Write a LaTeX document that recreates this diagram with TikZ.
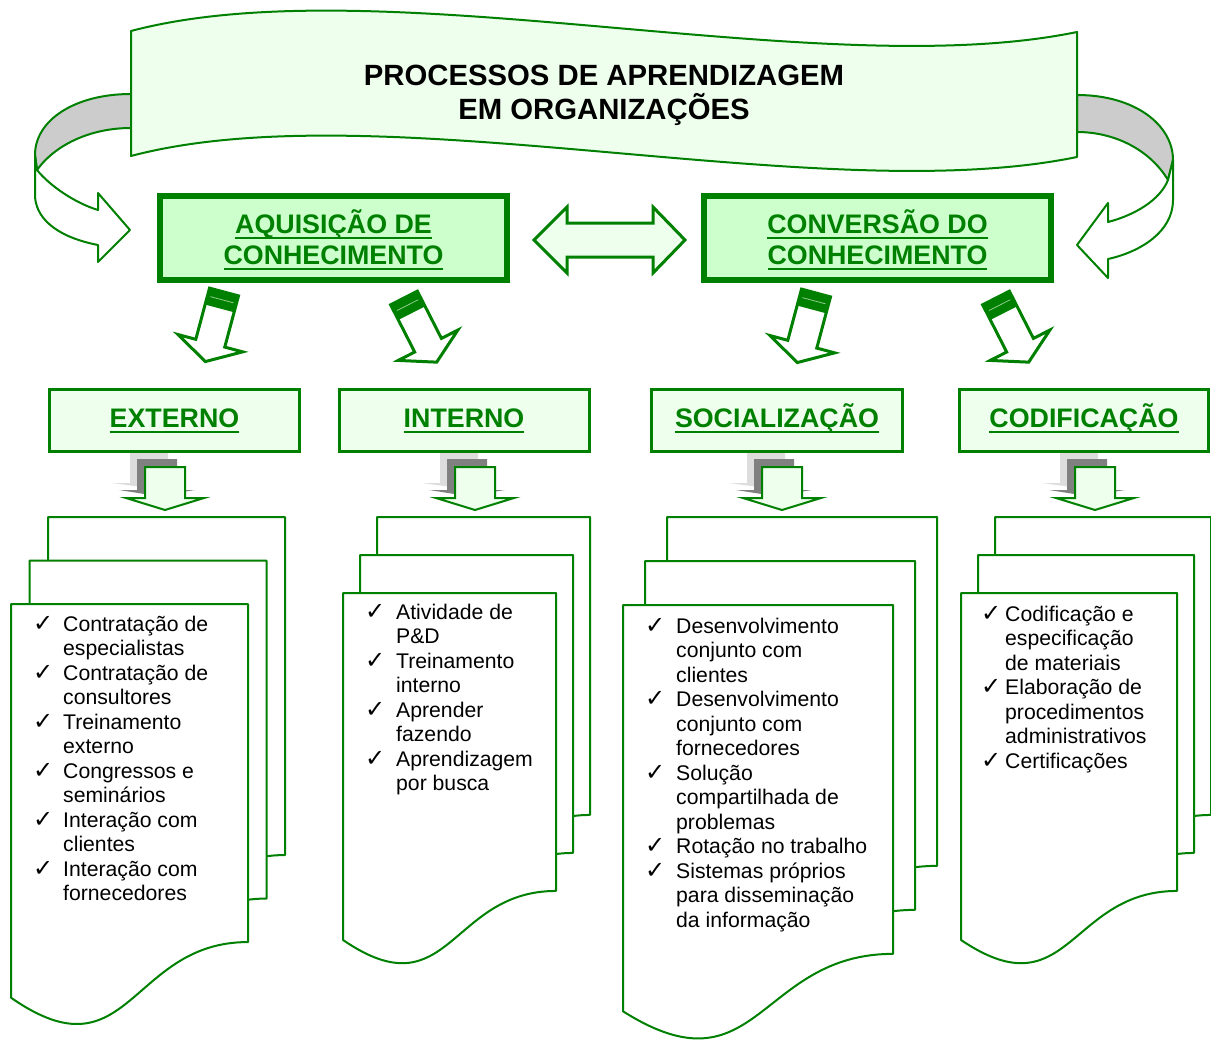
\documentclass[tikz,border=0pt]{standalone}
\usepackage{fontspec}
\setmainfont{Liberation Sans}
\newfontfamily\checkfont{DejaVu Sans}
\usetikzlibrary{calc}

\definecolor{dkgreen}{HTML}{008000}
\definecolor{mint}{HTML}{CCFFCC}
\definecolor{palemint}{HTML}{EEFFEE}
\definecolor{bandgray}{HTML}{CCCCCC}
\definecolor{shadowdark}{HTML}{808080}
\definecolor{shadowlight}{HTML}{DDDDDD}

% underline drawn as a thick rule under the whole word group
\newcommand\greenul[1]{\setbox0=\hbox{#1}\rlap{\rule[-5.5pt]{\wd0}{2pt}}\box0}
\newcommand\ck{{\checkfont\fontsize{24}{24.5}\selectfont ✓}}

\tikzset{
  ribbon/.style={draw=dkgreen, line width=2pt, line join=round},
  mainbox/.style={draw=dkgreen, line width=6pt, fill=mint, minimum width=347pt, minimum height=84pt},
  subbox/.style={draw=dkgreen, line width=3pt, fill=palemint, minimum height=62pt},
  headtext/.style={text=dkgreen, font=\bfseries\fontsize{26.8}{31}\selectfont, anchor=base, inner sep=0pt},
  titletext/.style={font=\bfseries\fontsize{29.3}{33}\selectfont, anchor=base, inner sep=0pt},
  listtext/.style={font=\fontsize{21.2}{24.5}\selectfont, anchor=base west, inner sep=0pt},
  docpg/.style={draw=dkgreen, line width=2pt, fill=white, line join=round},
  tiltarr/.style={draw=dkgreen, line width=3pt, fill=white, line join=miter},
  dropgreen/.style={draw=dkgreen, line width=2pt, fill=palemint, line join=miter},
}

% document sheet with wavy bottom: x y width height
\newcommand\docpage[4]{%
  \filldraw[docpg] (#1,#2) -- ({#1+#3},#2) -- ({#1+#3},{#2+0.802*#4})
    .. controls ({#1+0.5*#3},{#2+0.802*#4}) and ({#1+0.5*#3},{#2+1.13*#4}) ..
    (#1,{#2+0.934*#4}) -- cycle;}

% tilted block arrow with a striped tail: tail centre x, y, rotation
\newcommand\tiltarrow[3]{%
  \begin{scope}[shift={(#1,#2)}, rotate=#3]
    \draw[tiltarr] (-15,0) -- (15,0) -- (15,53) -- (33.5,53) -- (0,72) -- (-33.5,53) -- (-15,53) -- cycle;
    \fill[dkgreen] (-15,0) rectangle (15,17);
    \draw[palemint!60!dkgreen, line width=0.8pt] (-12,8) -- (12,8);
  \end{scope}}

% short down arrow with two grey shadows: centre x
\newcommand\droparrow[1]{%
  \fill[shadowlight] ({#1-35},450) -- ({#1+3},450) -- ({#1+3},483) -- ({#1+22},483) -- ({#1-16},488) -- ({#1-53},483) -- ({#1-35},483) -- cycle;
  \fill[shadowdark] ({#1-28},459) -- ({#1+12},459) -- ({#1+12},490) -- ({#1+30},490) -- ({#1-8},496) -- ({#1-46},490) -- ({#1-28},490) -- cycle;
  \draw[dropgreen] ({#1-20},467) -- ({#1+20},467) -- ({#1+20},498) -- ({#1+39},498) -- (#1,510) -- ({#1-39},498) -- ({#1-20},498) -- cycle;}

\begin{document}
\begin{tikzpicture}[x=1pt,y=-1pt]
\useasboundingbox (0,0) rectangle (1211,1041);

% ---- curled ends of the banner ----
\filldraw[ribbon, fill=bandgray] (131,94) .. controls (75,94) and (35,120) .. (35,155)
  -- (37,170) .. controls (55,145) and (90,128) .. (131,128) -- cycle;
\filldraw[ribbon, fill=white] (35,155) -- (35,197) .. controls (37,222) and (62,238) .. (98,245)
  -- (98,262) -- (130,230) -- (98,193) -- (98,210)
  .. controls (75,203) and (50,186) .. (37,170) -- cycle;

\filldraw[ribbon, fill=bandgray] (1077,95) .. controls (1135,95) and (1173,125) .. (1173,160)
  -- (1168,180) .. controls (1150,150) and (1115,132) .. (1077,132) -- cycle;
\filldraw[ribbon, fill=white] (1173,160) -- (1173,200) .. controls (1173,232) and (1140,252) .. (1108,259)
  -- (1108,278) -- (1077,245) -- (1108,203) -- (1108,222)
  .. controls (1135,215) and (1160,200) .. (1168,180) -- cycle;

% ---- banner front panel ----
\filldraw[ribbon, fill=palemint] (131,31) .. controls (380,-35) and (820,85) .. (1077,32)
  -- (1077,157) .. controls (820,210) and (380,90) .. (131,156) -- cycle;
\node[titletext] (title1) at (604,86) {PROCESSOS DE APRENDIZAGEM};
\node[titletext] (title2) at (604,119) {EM ORGANIZAÇÕES};

% ---- main boxes ----
\node[mainbox] (acq) at (333.5,238) {};
\node[headtext] (acq1) at (333.5,233) {\greenul{AQUISIÇÃO DE}};
\node[headtext] (acq2) at (333.5,264) {\greenul{CONHECIMENTO}};

\node[mainbox] (conv) at (877.5,238) {};
\node[headtext] (conv1) at (877.5,233) {\greenul{CONVERSÃO DO}};
\node[headtext] (conv2) at (877.5,264) {\greenul{CONHECIMENTO}};

% two-headed arrow between the main boxes
\filldraw[draw=dkgreen, line width=3pt, fill=palemint, line join=miter]
  (534,240) -- (567,207) -- (567,223) -- (653,223) -- (653,207) -- (685,240)
  -- (653,273) -- (653,257) -- (567,257) -- (567,273) -- cycle;

% ---- tilted arrows to the second row ----
\tiltarrow{224}{292}{-15}
\tiltarrow{404}{298}{27}
\tiltarrow{816}{293}{-15}
\tiltarrow{996}{298}{27}

% ---- document stacks ----
\docpage{48}{517}{237}{421.5}
\docpage{29.5}{560.5}{237}{421.5}
\docpage{11}{604}{237}{421.5}

\docpage{377}{517}{213}{371.5}
\docpage{360}{555}{213}{371.5}
\docpage{343}{593}{213}{371.5}

\docpage{667}{517}{270}{435}
\docpage{645}{561}{270}{435}
\docpage{623}{605}{270}{435}

\docpage{995}{517}{216}{371.5}
\docpage{978}{555}{216}{371.5}
\docpage{961}{593}{216}{371.5}

% ---- shadowed drop arrows ----
\droparrow{165}
\droparrow{475}
\droparrow{782}
\droparrow{1095}

% ---- second-row boxes ----
\node[subbox, minimum width=250pt] (ext) at (174.5,420.5) {};
\node[headtext] (extt) at (174.5,427) {\greenul{EXTERNO}};
\node[subbox, minimum width=250pt] (int) at (464,420.5) {};
\node[headtext] (intt) at (464,427) {\greenul{INTERNO}};
\node[subbox, minimum width=251pt] (soc) at (777,420.5) {};
\node[headtext] (soct) at (777,427) {\greenul{SOCIALIZAÇÃO}};
\node[subbox, minimum width=249pt] (cod) at (1084,420.5) {};
\node[headtext] (codt) at (1084,427) {\greenul{CODIFICAÇÃO}};

% ---- lists ----
\node[listtext] (extlist) at (33,631) {\begin{tabular}[t]{@{}p{30pt}@{}l@{}}
\ck & Contratação de\\ & especialistas\\
\ck & Contratação de\\ & consultores\\
\ck & Treinamento\\ & externo\\
\ck & Congressos e\\ & seminários\\
\ck & Interação com\\ & clientes\\
\ck & Interação com\\ & fornecedores
\end{tabular}};

\node[listtext] (intlist) at (365,619) {\begin{tabular}[t]{@{}p{31pt}@{}l@{}}
\ck & Atividade de\\ & P\&D\\
\ck & Treinamento\\ & interno\\
\ck & Aprender\\ & fazendo\\
\ck & Aprendizagem\\ & por busca
\end{tabular}};

\node[listtext] (soclist) at (645,633) {\begin{tabular}[t]{@{}p{31pt}@{}l@{}}
\ck & Desenvolvimento\\ & conjunto com\\ & clientes\\
\ck & Desenvolvimento\\ & conjunto com\\ & fornecedores\\
\ck & Solução\\ & compartilhada de\\ & problemas\\
\ck & Rotação no trabalho\\
\ck & Sistemas próprios\\ & para disseminação\\ & da informação
\end{tabular}};

\node[listtext] (codlist) at (981,621) {\begin{tabular}[t]{@{}p{24pt}@{}l@{}}
\ck & Codificação e\\ & especificação\\ & de materiais\\
\ck & Elaboração de\\ & procedimentos\\ & administrativos\\
\ck & Certificações
\end{tabular}};

\end{tikzpicture}
\end{document}
